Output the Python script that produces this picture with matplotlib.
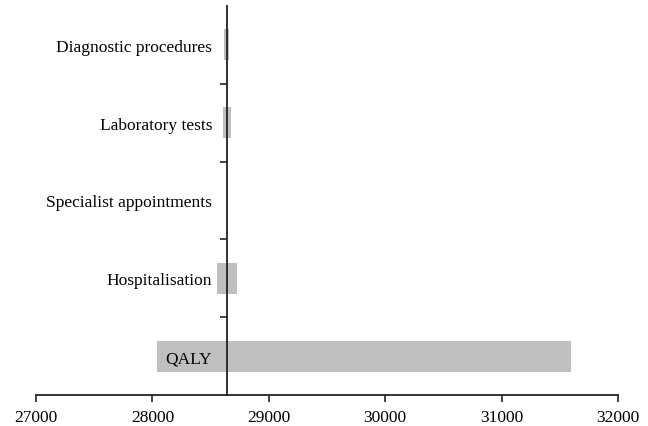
import matplotlib.pyplot as plt

categories = ['QALY', 'Hospitalisation', 'Specialist appointments',
              'Laboratory tests', 'Diagnostic procedures']
low_values = [28040, 28552, 28637, 28605, 28615]
high_values = [31600, 28725, 28645, 28673, 28658]
base_value = 28640
x_ticks = [27000, 28000, 29000, 30000, 31000, 32000]

plt.rcParams['font.family'] = ['Liberation Serif', 'DejaVu Serif']

fig = plt.figure(figsize=(6.48, 4.27), dpi=100)
ax = fig.add_axes([36 / 648, 31 / 427, 582 / 648, 389 / 427])

ypos = list(range(len(categories)))
widths = [h - l for l, h in zip(low_values, high_values)]
ax.barh(ypos, widths, left=low_values, height=0.4, color='#bfbfbf', zorder=1)

ax.set_xlim(27000, 32000)
ax.set_ylim(-0.5, len(categories) - 0.5)
ax.set_xticks(x_ticks)
ax.set_xticklabels([str(t) for t in x_ticks])

# boundary ticks on the vertical line, labels at category centres
ax.set_yticks([i + 0.5 for i in range(len(categories) - 1)])
ax.set_yticklabels([])
ax.set_yticks(ypos, minor=True)
ax.set_yticklabels(categories, minor=True)
ax.tick_params(axis='y', which='minor', length=0, pad=10.5, labelsize=12.5)
ax.tick_params(axis='y', which='major', length=5, width=1.2, color='#222222')
ax.tick_params(axis='x', length=5, width=1.2, color='#222222', pad=5,
               labelsize=12.5)

ax.spines['left'].set_position(('data', base_value))
ax.spines['left'].set_zorder(3)
for s in ['left', 'bottom']:
    ax.spines[s].set_linewidth(1.3)
    ax.spines[s].set_color('#222222')
ax.spines['top'].set_visible(False)
ax.spines['right'].set_visible(False)

fig.savefig('out.png', dpi=100)
